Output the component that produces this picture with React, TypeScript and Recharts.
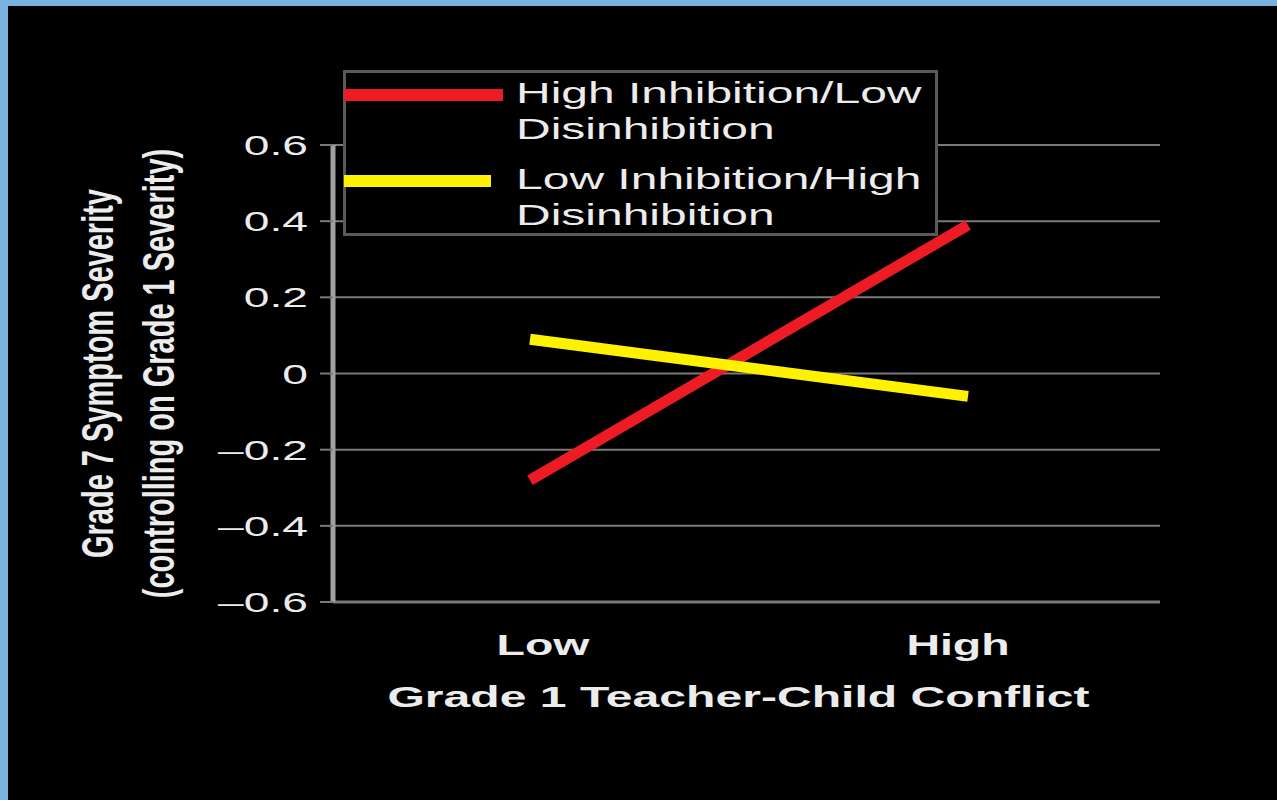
import React from 'react'
import {
  LineChart,
  Line,
  XAxis,
  YAxis,
  CartesianGrid,
  Legend,
} from 'recharts'

const conflictLevels = ['Low', 'High']
const highInhibition = [-0.28, 0.39]
const lowInhibition = [0.09, -0.06]
const yTicks = [-0.6, -0.4, -0.2, 0, 0.2, 0.4, 0.6]
const seriesNames = [
  'High Inhibition/Low Disinhibition',
  'Low Inhibition/High Disinhibition',
]

const data = conflictLevels.map((level, i) => ({
  level,
  high: highInhibition[i],
  low: lowInhibition[i],
}))

const FONT = '"Liberation Sans", Arial, Helvetica, sans-serif'
const TEXT = '#ececec'
const GRID = '#7a7a7a'

function fmtTick(v: number): string {
  if (v === 0) return '0'
  return v < 0 ? '\u2013' + Math.abs(v).toFixed(1) : v.toFixed(1)
}

function YTick(props: any) {
  const { x, y, payload } = props
  return (
    <text
      transform={`translate(${x},${y}) scale(1.65,1)`}
      x={0}
      y={10}
      textAnchor="end"
      fill={TEXT}
      fontSize={28}
      fontFamily={FONT}
    >
      {fmtTick(payload.value)}
    </text>
  )
}

function XTick(props: any) {
  const { x, y, payload, index } = props
  // labels sit a bit inside the line ends in the original
  const nudge = index === 0 ? 13 : -10
  return (
    <text
      transform={`translate(${x + nudge},${y + 53}) scale(1.55,1)`}
      x={0}
      y={0}
      textAnchor="middle"
      fill={TEXT}
      fontSize={30}
      fontWeight="bold"
      fontFamily={FONT}
    >
      {payload.value}
    </text>
  )
}

function XTitle(props: any) {
  const vb = props.viewBox ?? { x: 333, y: 602, width: 827, height: 60 }
  const cx = vb.x + vb.width / 2 - 8
  return (
    <text
      transform={`translate(${cx},${vb.y + 105}) scale(1.66,1)`}
      textAnchor="middle"
      fill={TEXT}
      fontSize={29}
      fontWeight="bold"
      fontFamily={FONT}
    >
      Grade 1 Teacher-Child Conflict
    </text>
  )
}

function YTitle(props: any) {
  const vb = props.viewBox ?? { x: 233, y: 145, width: 100, height: 457 }
  const cy = vb.y + vb.height / 2
  const lines = ['Grade 7 Symptom Severity', '(controlling on Grade 1 Severity)']
  const xs = [vb.x - 135, vb.x - 74]
  return (
    <g>
      {lines.map((t, i) => (
        <text
          key={t}
          transform={`translate(${xs[i]},${cy}) scale(1.5,1) rotate(-90)`}
          textAnchor="middle"
          dominantBaseline="central"
          fill={TEXT}
          fontSize={29}
          fontWeight="bold"
          fontFamily={FONT}
        >
          {t}
        </text>
      ))}
    </g>
  )
}

const SWATCH_LEN = [160, 148]

function LegendBox(props: any) {
  const payload = props.payload ?? []
  return (
    <svg width={595} height={166} style={{ display: 'block' }}>
      <rect x={1.5} y={1.5} width={592} height={163} fill="#000" stroke="#5a5a5a" strokeWidth={3} />
      {payload.map((entry: any, i: number) => {
        const name = String(entry.value)
        const cut = name.lastIndexOf(' ')
        const row = i * 86
        return (
          <g key={name}>
            <line
              x1={1}
              x2={SWATCH_LEN[i] ?? 150}
              y1={25 + row}
              y2={25 + row}
              stroke={entry.color}
              strokeWidth={12}
            />
            {[name.slice(0, cut), name.slice(cut + 1)].map((t, j) => (
              <text
                key={t}
                transform={`translate(173,${33 + row + j * 36}) scale(1.6,1)`}
                fill={TEXT}
                fontSize={30}
                fontFamily={FONT}
              >
                {t}
              </text>
            ))}
          </g>
        )
      })}
    </svg>
  )
}

export default function App() {
  return (
    <div
      style={{
        position: 'fixed',
        left: 0,
        top: 0,
        width: 1277,
        height: 800,
        background: '#7ab3df',
        overflow: 'hidden',
      }}
    >
      <div style={{ position: 'absolute', left: 8, top: 6, right: 0, bottom: 0, background: '#000' }} />
      <div style={{ position: 'absolute', left: 0, top: 0 }}>
        <LineChart
          width={1277}
          height={800}
          data={data}
          margin={{ top: 145, right: 117, bottom: 138, left: 233 }}
        >
          <CartesianGrid vertical={false} stroke={GRID} strokeWidth={2} />
          <XAxis
            dataKey="level"
            type="category"
            height={60}
            padding={{ left: 197, right: 192 }}
            axisLine={{ stroke: GRID, strokeWidth: 3 }}
            tickLine={false}
            tickSize={0}
            tickMargin={0}
            tick={<XTick />}
            label={<XTitle />}
          />
          <YAxis
            type="number"
            domain={[-0.6, 0.6]}
            ticks={yTicks}
            width={100}
            axisLine={{ stroke: '#a0a0a0', strokeWidth: 5 }}
            tickLine={{ stroke: GRID, strokeWidth: 2 }}
            tickSize={13}
            tickMargin={12}
            tick={<YTick />}
            label={<YTitle />}
          />
          <Legend
            layout="horizontal"
            verticalAlign="middle"
            align="center"
            content={<LegendBox />}
            wrapperStyle={{ position: 'absolute', left: 343, top: 70, width: 595, height: 166 }}
          />
          <Line
            type="linear"
            dataKey="high"
            name={seriesNames[0]}
            stroke="#ed1c24"
            strokeWidth={11}
            dot={false}
            activeDot={false}
            isAnimationActive={false}
          />
          <Line
            type="linear"
            dataKey="low"
            name={seriesNames[1]}
            stroke="#fff200"
            strokeWidth={11}
            dot={false}
            activeDot={false}
            isAnimationActive={false}
          />
        </LineChart>
      </div>
    </div>
  )
}
